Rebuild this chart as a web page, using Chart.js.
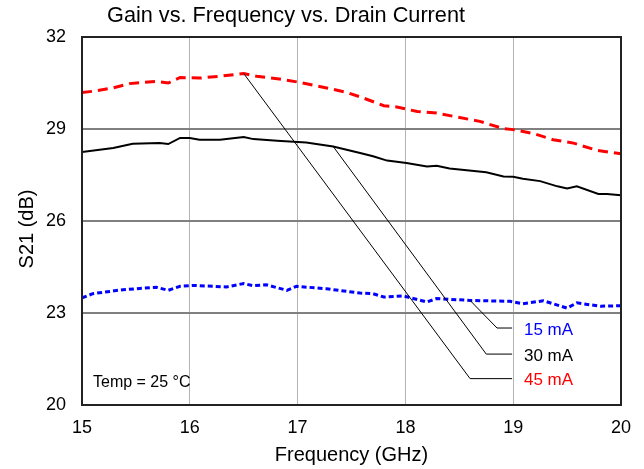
<!DOCTYPE html>
<html>
<head>
<meta charset="utf-8">
<script src="https://cdn.jsdelivr.net/npm/chart.js@4/dist/chart.umd.min.js"></script>
<style>
html,body{margin:0;padding:0;background:#fff;}
#wrap{width:644px;height:469px;position:relative;}
</style>
</head>
<body>
<div id="wrap"><canvas id="c" width="644" height="469"></canvas></div>
<script>
// ---- data ----
const xTicks = [15, 16, 17, 18, 19, 20];
const yTicks = [20, 23, 26, 29, 32];

const red45Freq = [15.0,15.1,15.29,15.44,15.69,15.8,15.91,16.09,16.28,16.5,16.62,16.83,17.02,17.27,17.45,17.61,17.8,17.92,18.11,18.29,18.48,18.69,18.91,19.0,19.19,19.37,19.56,19.78,20.0];
const red45Gain = [30.19,30.23,30.34,30.48,30.55,30.50,30.68,30.66,30.72,30.81,30.72,30.63,30.52,30.34,30.20,30.01,29.76,29.72,29.57,29.52,29.39,29.25,29.01,28.98,28.85,28.65,28.54,28.30,28.19];

const black30Freq = [15.0,15.29,15.47,15.72,15.8,15.91,16.0,16.09,16.28,16.5,16.59,16.81,17.08,17.33,17.58,17.70,17.83,18.01,18.2,18.29,18.41,18.75,18.91,19.0,19.09,19.25,19.41,19.5,19.59,19.79,19.87,20.0];
const black30Gain = [28.25,28.38,28.52,28.54,28.51,28.71,28.71,28.65,28.65,28.74,28.67,28.62,28.56,28.43,28.22,28.11,27.97,27.89,27.78,27.80,27.71,27.59,27.45,27.44,27.38,27.30,27.13,27.06,27.13,26.88,26.88,26.84];

const blue15Freq = [15.0,15.1,15.38,15.69,15.8,15.91,16.03,16.34,16.5,16.59,16.71,16.9,16.99,17.27,17.58,17.70,17.8,17.98,18.2,18.29,18.6,18.97,19.09,19.28,19.5,19.59,19.81,20.0];
const blue15Gain = [23.49,23.63,23.76,23.84,23.74,23.87,23.90,23.85,23.96,23.89,23.92,23.74,23.87,23.79,23.65,23.63,23.52,23.56,23.36,23.47,23.41,23.38,23.30,23.40,23.16,23.33,23.22,23.24];

// leader-line annotations (data coordinates)
const annLabels = ['15 mA', '30 mA', '45 mA'];
const annColors = ['#0000ff', '#000000', '#ff0000'];
const annStartF = [18.6, 17.33, 16.5];
const annStartG = [23.41, 28.43, 30.81];
const annElbowF = [18.85, 18.75, 18.6];
const annElbowG = [22.51, 21.66, 20.86];
const annEndF = 18.99;
const annTextF = 19.1;

const FONT = '"Liberation Sans", Arial, Helvetica, sans-serif';

function pts(xs, ys){ return xs.map((x,i)=>({x:x, y:ys[i]})); }

const extras = {
  id: 'extras',
  afterDatasetsDraw(chart){
    const {ctx, chartArea:a, scales:{x, y}} = chart;
    ctx.save();
    // leader lines
    ctx.strokeStyle = '#000';
    ctx.lineWidth = 1;
    for (let i = 0; i < annLabels.length; i++){
      ctx.beginPath();
      ctx.moveTo(x.getPixelForValue(annStartF[i]), y.getPixelForValue(annStartG[i]));
      ctx.lineTo(x.getPixelForValue(annElbowF[i]), y.getPixelForValue(annElbowG[i]));
      ctx.lineTo(x.getPixelForValue(annEndF), y.getPixelForValue(annElbowG[i]));
      ctx.stroke();
      ctx.fillStyle = annColors[i];
      ctx.font = '17px ' + FONT;
      ctx.textAlign = 'left';
      ctx.textBaseline = 'middle';
      ctx.fillText(annLabels[i], x.getPixelForValue(annTextF), y.getPixelForValue(annElbowG[i]) + 2);
    }
    // frame
    ctx.strokeStyle = '#222';
    ctx.lineWidth = 2;
    ctx.strokeRect(a.left, a.top, a.right - a.left, a.bottom - a.top);
    // temp note
    ctx.fillStyle = '#000';
    ctx.font = '16px ' + FONT;
    ctx.textAlign = 'left';
    ctx.textBaseline = 'middle';
    ctx.fillText('Temp = 25 \u00B0C', a.left + 11, y.getPixelForValue(20.72));
    // title
    ctx.font = '21.7px ' + FONT;
    ctx.textAlign = 'center';
    ctx.fillText('Gain vs. Frequency vs. Drain Current', 286, 16);
    // axis titles
    ctx.font = '20px ' + FONT;
    ctx.fillText('Frequency (GHz)', (a.left + a.right) / 2, 455);
    ctx.save();
    ctx.translate(27, 229);
    ctx.rotate(-Math.PI / 2);
    ctx.fillText('S21 (dB)', 0, 0);
    ctx.restore();
    ctx.restore();
  }
};

new Chart(document.getElementById('c'), {
  type: 'line',
  data: {
    datasets: [
      { label: '45 mA', data: pts(red45Freq, red45Gain), borderColor: '#ff0000', borderWidth: 3, borderDash: [10, 6], pointRadius: 0, tension: 0, fill: false },
      { label: '30 mA', data: pts(black30Freq, black30Gain), borderColor: '#000000', borderWidth: 2, pointRadius: 0, tension: 0, fill: false },
      { label: '15 mA', data: pts(blue15Freq, blue15Gain), borderColor: '#0000ff', borderWidth: 3, borderDash: [5, 3], pointRadius: 0, tension: 0, fill: false }
    ]
  },
  options: {
    responsive: false,
    animation: false,
    layout: { padding: { top: 37, right: 23, bottom: 0, left: 0 } },
    plugins: { legend: { display: false }, tooltip: { enabled: false }, title: { display: false } },
    scales: {
      x: {
        type: 'linear', min: 15, max: 20,
        afterBuildTicks(s){ s.ticks = xTicks.map(v => ({value: v})); },
        afterFit(s){ s.height = 64; },
        grid: { color: '#b4b4b4', lineWidth: 1, drawTicks: false },
        border: { display: false },
        ticks: { padding: 12, color: '#000', font: { family: FONT, size: 18 }, maxRotation: 0 }
      },
      y: {
        type: 'linear', min: 20, max: 32,
        afterBuildTicks(s){ s.ticks = yTicks.map(v => ({value: v})); },
        afterFit(s){ s.width = 82; },
        grid: { color: '#808080', lineWidth: 2, drawTicks: false },
        border: { display: false },
        ticks: { padding: 16, color: '#000', font: { family: FONT, size: 18 } }
      }
    }
  },
  plugins: [extras]
});
</script>
</body>
</html>
